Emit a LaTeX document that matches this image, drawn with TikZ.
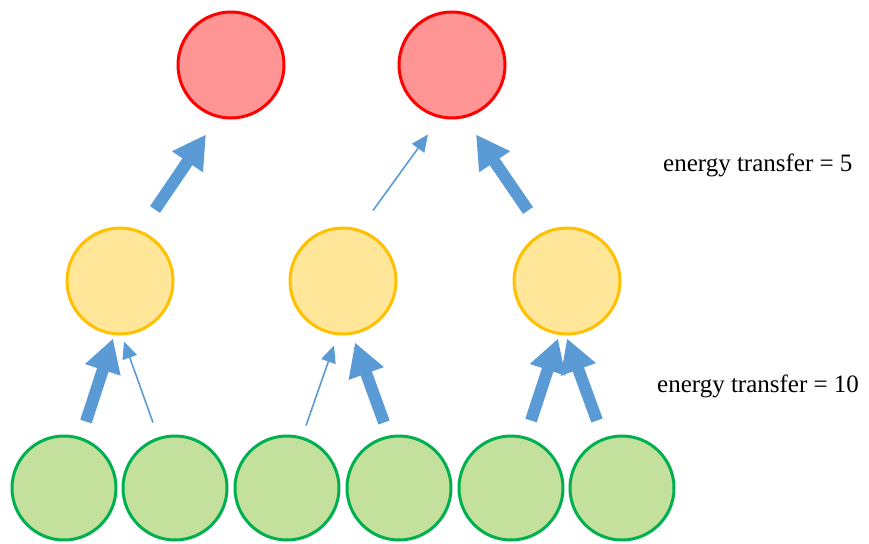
\documentclass[tikz,border=0pt]{standalone}
\usepackage{fontspec}
\setmainfont{Liberation Serif}
\usetikzlibrary{arrows.meta,calc}
\definecolor{flowblue}{HTML}{5B9BD5}
\definecolor{redfill}{HTML}{FF9494}
\definecolor{redline}{HTML}{FF0000}
\definecolor{yelfill}{HTML}{FFE699}
\definecolor{yelline}{HTML}{FFC000}
\definecolor{grnfill}{HTML}{C3E09D}
\definecolor{grnline}{HTML}{00B050}
\tikzset{
  org/.style={circle, inner sep=0pt, line width=3pt},
  topcons/.style={org, minimum size=106pt, draw=redline, fill=redfill},
  midcons/.style={org, minimum size=106pt, draw=yelline, fill=yelfill},
  producer/.style={org, minimum size=104pt, draw=grnline, fill=grnfill},
  bigflow/.style={draw=flowblue, line width=12pt, -{Triangle[width=35pt,length=33pt]}},
  smallflow/.style={draw=flowblue, line width=1.6pt, -{Triangle[width=15pt,length=17pt]}},
  label/.style={anchor=base west, inner sep=0pt, font=\fontsize{25}{28}\selectfont}
}
\begin{document}
\begin{tikzpicture}[x=1pt, y=-1pt]
\useasboundingbox (0,0) rectangle (869,543);

% top consumers
\node[topcons] (r1) at (231,65) {};
\node[topcons] (r2) at (452,65) {};

% middle consumers
\node[midcons] (y1) at (120,281) {};
\node[midcons] (y2) at (343,281) {};
\node[midcons] (y3) at (567,281) {};

% producers
\foreach \x [count=\i] in {64,175,287,399,511,622}
  \node[producer] (g\i) at (\x,488) {};

% transfers from middle to top level
\draw[bigflow]   ($(y1.north)+(35,-17)$) -- ($(r1.south)+(-25,15)$);
\draw[smallflow] ($(y2.north)+(30,-16)$) -- ($(r2.south)+(-24,15)$);
\draw[bigflow]   ($(y3.north)+(-39,-16)$) -- ($(r2.south)+(24,15)$);

% transfers from producers to middle level
\draw[bigflow]   ($(g1.north)+(22,-13)$) -- ($(y1.south)+(-7,3)$);
\draw[smallflow] ($(g2.north)+(-22,-12)$) -- ($(y1.south)+(4,6)$);
\draw[smallflow] ($(g3.north)+(19,-9)$)  -- ($(y2.south)+(-9,10)$);
\draw[bigflow]   ($(g4.north)+(-15,-12)$) -- ($(y2.south)+(12,7)$);
\draw[bigflow]   ($(g5.north)+(20,-14)$) -- ($(y3.south)+(-9,3)$);
\draw[bigflow]   ($(g6.north)+(-25,-14)$) -- ($(y3.south)+(0,3)$);

% level labels
\node[label] (t5) at (663,171) {energy transfer = 5};
\node[label] (t10) at (657,392) {energy transfer = 10};
\end{tikzpicture}
\end{document}
